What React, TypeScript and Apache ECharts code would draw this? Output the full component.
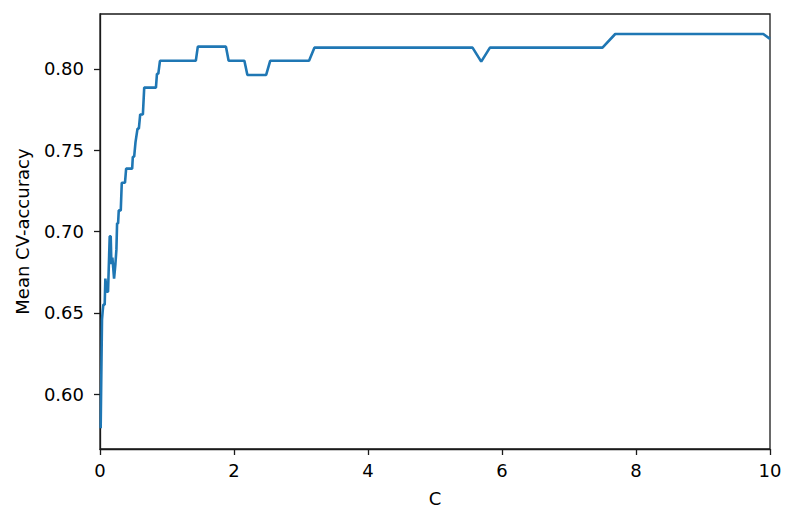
import React, { useEffect, useRef } from 'react';
import * as echarts from 'echarts';

// C values and mean CV-accuracy (corners of the step curve)
const cValues = [
  0.01, 0.02, 0.03, 0.04, 0.05, 0.07, 0.08, 0.09, 0.1, 0.12, 0.145, 0.16, 0.17, 0.185, 0.21, 0.23,
  0.245, 0.255, 0.27, 0.28, 0.31, 0.325, 0.373, 0.39, 0.48, 0.49, 0.51, 0.53, 0.56, 0.58, 0.6, 0.64,
  0.66, 0.835, 0.85, 0.87, 0.895, 1.43, 1.46, 1.88, 1.92, 2.155, 2.2, 2.48, 2.54, 3.12, 3.2, 5.56,
  5.69, 5.82, 7.5, 7.69, 9.9, 10.0,
];
const accuracy = [
  0.579, 0.613, 0.646, 0.651, 0.655, 0.655, 0.671, 0.671, 0.663, 0.663, 0.697, 0.697, 0.68, 0.684,
  0.671, 0.68, 0.689, 0.705, 0.705, 0.713, 0.713, 0.73, 0.73, 0.7387, 0.7387, 0.746, 0.746, 0.755,
  0.7633, 0.7633, 0.772, 0.772, 0.7885, 0.7885, 0.797, 0.797, 0.805, 0.805, 0.8137, 0.8137, 0.805,
  0.805, 0.7963, 0.7963, 0.805, 0.805, 0.8131, 0.8131, 0.8045, 0.8131, 0.8131, 0.8215, 0.8215, 0.8185,
];
const yTicks = [0.6, 0.65, 0.7, 0.75, 0.8];

const font = 'DejaVu Sans';
const ink = '#1a1a1a';

const App: React.FC = () => {
  const chartRef = useRef<HTMLDivElement>(null);

  useEffect(() => {
    if (!chartRef.current) return;
    const chart = echarts.init(chartRef.current, undefined, { renderer: 'svg' });

    const option: echarts.EChartsOption = {
      animation: false,
      grid: {
        left: 92,
        right: 18,
        top: 6,
        bottom: 66,
        outerBoundsMode: 'none',
        show: true,
        borderColor: ink,
        borderWidth: 1.3,
        backgroundColor: 'transparent',
      } as any,
      xAxis: {
        type: 'value',
        min: 0,
        max: 10,
        interval: 2,
        name: 'C',
        nameLocation: 'middle',
        nameGap: 40,
        nameTextStyle: { color: '#000', fontSize: 18, fontFamily: font },
        axisLine: { show: true, onZero: false, lineStyle: { color: ink, width: 1.3 } },
        axisTick: { show: true, length: 6, lineStyle: { color: ink, width: 1.3 } },
        axisLabel: { color: '#000', fontSize: 18, fontFamily: font, margin: 12 },
        splitLine: { show: false },
      },
      yAxis: {
        type: 'value',
        min: 0.5662,
        max: 0.8338,
        name: 'Mean CV-accuracy',
        nameLocation: 'middle',
        nameGap: 69,
        nameTextStyle: { color: '#000', fontSize: 18, fontFamily: font },
        axisLine: { show: true, onZero: false, lineStyle: { color: ink, width: 1.3 } },
        axisTick: { show: true, length: 6, lineStyle: { color: ink, width: 1.3 }, customValues: yTicks },
        axisLabel: {
          color: '#000',
          fontSize: 18,
          fontFamily: font,
          margin: 16,
          customValues: yTicks,
          formatter: (v: number) => v.toFixed(2),
        },
        splitLine: { show: false },
      },
      series: [
        {
          type: 'line',
          data: cValues.map((c, i) => [c, accuracy[i]]),
          showSymbol: false,
          symbol: 'none',
          lineStyle: { color: '#1f77b4', width: 2.6 },
          clip: true,
        },
      ],
    };

    chart.setOption(option);
    return () => {
      chart.dispose();
    };
  }, []);

  return <div ref={chartRef} style={{ width: 780, height: 507 }} />;
};

export default App;
